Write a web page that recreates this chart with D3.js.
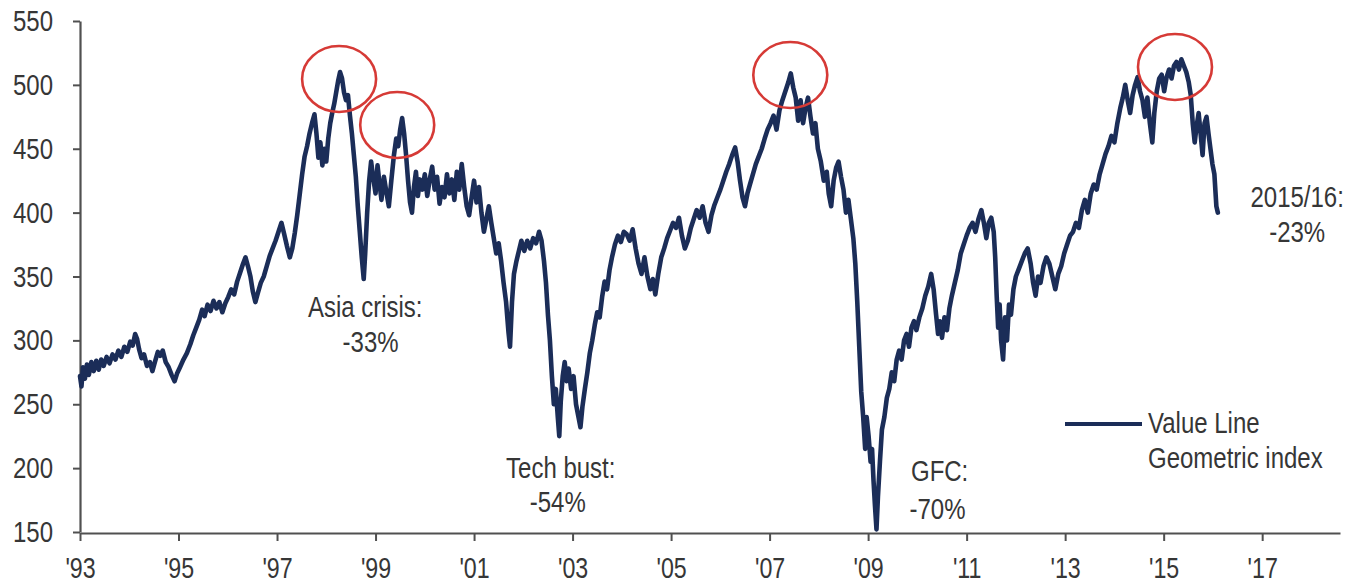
<!DOCTYPE html>
<html><head><meta charset="utf-8">
<script src="https://cdn.jsdelivr.net/npm/d3@7"></script>
<style>body{margin:0;background:#fff} svg{display:block}</style>
</head><body><svg id="c" width="1361" height="584"></svg>
<script>
// ---- data ----
const years = [
1993.00,1993.03,1993.06,1993.10,1993.14,1993.18,1993.23,1993.28,1993.33,1993.38,1993.43,1993.48,1993.54,1993.60,1993.66,1993.72,1993.78,1993.84,1993.90,1993.96,
1994.02,1994.07,1994.12,1994.16,1994.20,1994.25,1994.30,1994.36,1994.42,1994.47,1994.52,1994.58,1994.63,1994.68,1994.74,1994.80,1994.86,1994.92,1994.97,
1995.03,1995.10,1995.17,1995.24,1995.30,1995.36,1995.42,1995.48,1995.53,1995.59,1995.65,1995.71,1995.77,1995.83,1995.89,1995.95,
1996.01,1996.07,1996.13,1996.19,1996.25,1996.31,1996.36,1996.41,1996.46,1996.51,1996.56,1996.61,1996.67,1996.73,1996.79,1996.85,1996.91,1996.97,
1997.03,1997.09,1997.14,1997.20,1997.26,1997.31,1997.36,1997.41,1997.46,1997.51,1997.56,1997.61,1997.66,1997.71,1997.76,1997.80,1997.84,1997.88,1997.92,1997.96,
1998.00,1998.04,1998.08,1998.12,1998.16,1998.20,1998.24,1998.28,1998.32,1998.36,1998.40,1998.44,1998.48,1998.52,1998.56,1998.60,1998.64,1998.68,1998.72,1998.76,1998.79,1998.83,1998.87,1998.91,1998.95,
1999.00,1999.04,1999.08,1999.12,1999.17,1999.22,1999.27,1999.32,1999.37,1999.42,1999.46,1999.50,1999.54,1999.58,1999.62,1999.66,1999.70,1999.74,1999.78,1999.82,1999.86,1999.90,1999.95,
2000.00,2000.05,2000.10,2000.15,2000.20,2000.25,2000.30,2000.35,2000.40,2000.45,2000.50,2000.55,2000.60,2000.65,2000.70,2000.75,2000.80,2000.85,2000.90,2000.95,
2001.00,2001.05,2001.10,2001.15,2001.20,2001.25,2001.30,2001.35,2001.40,2001.45,2001.50,2001.55,2001.60,2001.65,2001.70,2001.73,2001.77,2001.81,2001.86,2001.91,2001.96,
2002.02,2002.08,2002.14,2002.20,2002.26,2002.32,2002.37,2002.42,2002.46,2002.50,2002.54,2002.58,2002.62,2002.66,2002.70,2002.73,2002.76,2002.80,2002.84,2002.88,2002.92,2002.97,
2003.02,2003.07,2003.12,2003.16,2003.20,2003.25,2003.30,2003.35,2003.40,2003.45,2003.50,2003.55,2003.60,2003.65,2003.70,2003.75,2003.80,2003.86,2003.92,2003.98,
2004.04,2004.10,2004.16,2004.22,2004.28,2004.34,2004.40,2004.46,2004.52,2004.58,2004.63,2004.68,2004.74,2004.80,2004.86,2004.92,2004.98,
2005.04,2005.10,2005.16,2005.22,2005.28,2005.34,2005.40,2005.46,2005.52,2005.58,2005.64,2005.70,2005.76,2005.82,2005.88,2005.94,
2006.00,2006.06,2006.12,2006.18,2006.24,2006.30,2006.35,2006.40,2006.45,2006.50,2006.55,2006.60,2006.66,2006.72,2006.78,2006.84,2006.90,2006.96,
2007.02,2007.08,2007.14,2007.20,2007.26,2007.32,2007.38,2007.43,2007.48,2007.53,2007.58,2007.63,2007.68,2007.73,2007.78,2007.83,2007.88,2007.93,2007.98,
2008.04,2008.10,2008.16,2008.20,2008.25,2008.30,2008.35,2008.40,2008.45,2008.50,2008.55,2008.60,2008.65,2008.70,2008.74,2008.78,2008.82,2008.86,2008.90,2008.94,2008.97,
2009.01,2009.05,2009.08,2009.11,2009.14,2009.17,2009.20,2009.24,2009.28,2009.33,2009.38,2009.43,2009.48,2009.53,2009.58,2009.63,2009.68,2009.73,2009.78,2009.83,2009.88,2009.93,2009.98,
2010.04,2010.10,2010.16,2010.22,2010.28,2010.33,2010.38,2010.42,2010.46,2010.50,2010.55,2010.60,2010.65,2010.70,2010.76,2010.82,2010.88,2010.94,
2011.00,2011.06,2011.12,2011.18,2011.24,2011.30,2011.35,2011.40,2011.45,2011.50,2011.55,2011.58,2011.61,2011.64,2011.67,2011.70,2011.74,2011.78,2011.82,2011.86,2011.90,2011.95,
2012.00,2012.06,2012.12,2012.18,2012.24,2012.30,2012.35,2012.40,2012.45,2012.50,2012.56,2012.62,2012.68,2012.74,2012.80,2012.86,2012.92,2012.98,
2013.04,2013.10,2013.16,2013.22,2013.28,2013.34,2013.40,2013.46,2013.52,2013.58,2013.64,2013.70,2013.76,2013.82,2013.88,2013.94,
2014.00,2014.06,2014.12,2014.17,2014.22,2014.27,2014.32,2014.37,2014.42,2014.47,2014.52,2014.57,2014.62,2014.67,2014.72,2014.77,2014.81,2014.86,2014.91,2014.96,
2015.01,2015.06,2015.11,2015.16,2015.21,2015.26,2015.31,2015.36,2015.41,2015.46,2015.51,2015.55,2015.59,2015.63,2015.67,2015.71,2015.75,2015.79,2015.83,2015.87,2015.91,2015.95,2015.99,
2016.03,2016.07,2016.10
];
const values = [
272,264,279,270,281,273,283,276,284,277,285,280,287,282,289,285,292,287,295,291,
299,296,305,301,293,286,289,280,283,276,283,291,288,292,283,279,273,268,274,
279,285,290,297,304,310,316,324,319,328,323,331,325,330,322,329,
334,340,336,346,353,360,365,358,350,338,330,337,345,350,358,366,372,378,
385,392,384,374,365,372,384,398,414,430,444,452,462,470,477,462,443,455,437,450,
440,458,470,478,485,494,503,510,505,494,488,492,476,462,445,428,405,385,365,348,368,400,425,440,428,
415,437,423,410,428,416,405,425,444,458,452,465,474,462,445,425,408,400,420,432,413,426,418,
430,413,426,436,418,428,407,420,412,430,415,426,410,432,418,438,420,405,398,412,
425,408,420,400,385,395,405,392,380,368,376,362,345,330,306,295,330,352,362,370,378,
370,378,372,380,376,385,378,362,345,320,300,272,250,262,240,225,252,272,283,268,278,262,
272,250,240,232,248,262,275,290,300,312,322,318,334,346,340,355,365,375,382,377,
385,383,378,387,372,360,352,365,350,340,348,336,352,365,372,380,386,
392,388,396,382,372,378,388,395,402,396,405,392,385,398,406,412,
418,425,432,438,445,451,440,425,412,405,415,422,430,438,444,450,458,465,
470,476,465,480,488,495,502,509,498,490,472,488,470,482,490,475,462,470,450,
440,425,432,415,405,425,435,440,428,418,400,410,395,380,360,330,295,260,240,215,240,
225,205,215,190,170,152,178,205,230,240,255,262,275,268,285,292,285,300,305,295,310,315,308,
318,325,335,342,352,340,320,305,315,302,318,308,325,335,345,355,368,375,
382,388,392,385,395,402,392,380,392,396,385,365,335,310,328,300,285,318,300,328,320,340,
350,356,362,368,372,360,345,335,350,345,358,365,360,350,340,352,358,368,
375,382,385,392,388,402,410,400,415,422,418,430,438,446,452,460,
455,470,482,490,500,488,478,492,500,506,495,488,475,490,470,455,478,495,505,508,
495,506,512,505,515,518,512,520,515,510,502,492,470,455,468,478,462,445,470,475,462,450,438,
430,405,400
];
const yTickValues = [150,200,250,300,350,400,450,500,550];
const xTickYears = [1993,1995,1997,1999,2001,2003,2005,2007,2009,2011,2013,2015,2017];
const xTickLabels = ["'93","'95","'97","'99","'01","'03","'05","'07","'09","'11","'13","'15","'17"];
const peakYears = [1998.26,1999.44,2007.42,2015.23];
const peakValues = [504.6,468.6,507.7,514];
const annotationTexts = [["Asia crisis:","-33%"],["Tech bust:","-54%"],["GFC:","-70%"],["2015/16:","-23%"]];
const legendLines = ["Value Line","Geometric index"];

// ---- drawing ----
const svg = d3.select("#c");
const x = d3.scaleLinear().domain([1993, 2018.58]).range([80, 1340]);
const y = d3.scaleLinear().domain([150, 550]).range([532, 21]);
const FONT = "'Liberation Sans', Arial, sans-serif";
const TXT = "#363636";
const SX = 0.8;
const LINE = "#1b2d58";

svg.append("rect").attr("width",1361).attr("height",584).attr("fill","#fff");

// axes
const gx = svg.append("g").attr("transform",`translate(0,${y(150)+1})`)
  .call(d3.axisBottom(x).tickValues(xTickYears).tickFormat((d,i)=>xTickLabels[i]).tickSize(8).tickSizeOuter(0).tickPadding(16));
const gy = svg.append("g").attr("transform",`translate(${x(1993)},0)`)
  .call(d3.axisLeft(y).tickValues(yTickValues).tickSize(7).tickSizeOuter(0).tickPadding(20));
[gx,gy].forEach(g=>{
  g.select(".domain").attr("stroke","#505050").attr("stroke-width",2.2);
  g.selectAll(".tick line").attr("stroke","#505050").attr("stroke-width",2);
  g.selectAll(".tick text").attr("font-family",FONT).attr("font-size",29).attr("fill",TXT);
});
gx.selectAll(".tick text").attr("transform",`scale(${SX},1)`);
gy.selectAll(".tick text").attr("x",-27/SX).attr("font-size",30).attr("transform",`scale(${SX},1)`);

// series
const pts = years.map((yr,i)=>[yr, values[i]]);
svg.append("path").datum(pts)
  .attr("fill","none").attr("stroke",LINE).attr("stroke-width",4.6)
  .attr("stroke-linejoin","round").attr("stroke-linecap","round")
  .attr("d", d3.line().x(d=>x(d[0])).y(d=>y(d[1])));

// highlight ellipses
peakYears.forEach((yr,i)=>{
  svg.append("ellipse").attr("cx",x(yr)).attr("cy",y(peakValues[i]))
    .attr("rx",37).attr("ry",33).attr("fill","none")
    .attr("stroke","#d63a36").attr("stroke-width",2.6);
});

// text helper
function label(px, py, str, anchor){
  svg.append("text").attr("transform",`translate(${px},${py}) scale(${SX},1)`)
    .attr("text-anchor",anchor).attr("font-family",FONT).attr("font-size",30)
    .attr("fill",TXT).text(str);
}
const annPos = [
  {x:x(1998.79), a:"middle", b1:317, b2:352, x2:x(1998.9)},
  {x:x(2002.76), a:"middle", b1:478, b2:512, x2:x(2002.7)},
  {x:x(2009.87), a:"start", b1:481, b2:519, x2:x(2009.84)},
  {x:x(2017.71), a:"middle", b1:207, b2:242, x2:x(2017.71)}
];
annotationTexts.forEach((t,i)=>{
  const p = annPos[i];
  label(p.x, p.b1, t[0], p.a);
  label(p.x2, p.b2, t[1], p.a);
});

// legend
svg.append("line").attr("x1",1065).attr("x2",1142).attr("y1",424).attr("y2",424)
  .attr("stroke",LINE).attr("stroke-width",3.8);
label(1148, 433, legendLines[0], "start");
label(1148, 468, legendLines[1], "start");
</script></body></html>
